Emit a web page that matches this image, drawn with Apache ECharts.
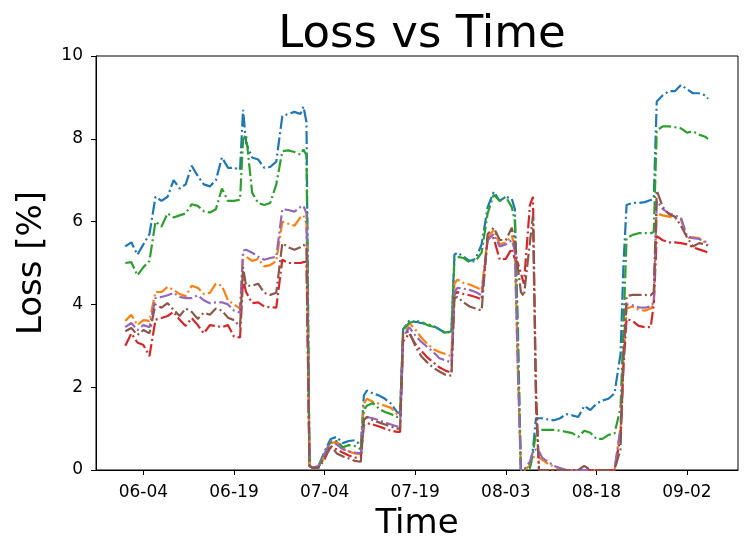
<!DOCTYPE html>
<html>
<head>
<meta charset="utf-8">
<script src="https://cdn.jsdelivr.net/npm/echarts@6/dist/echarts.min.js"></script>
<style>
html,body{margin:0;padding:0;background:#fff;}
#chart{width:744px;height:540px;}
</style>
</head>
<body>
<div id="chart"></div>
<script>
// x positions: days counted from 05-20 (06-01 = 12)
const days = [
  12,13,14,15,16,17,18,19,20,21,22,23,24,25,26,27,28,29,30,31,
  31.5,
  32,33,34,35,36,37,38,39,40,41,
  41.5,42,42.5,
  43,44,45,46,47,48,49,50,51,
  51.5,
  52,53,54,55,56,57,
  57.5,
  58,59,60,61,62,63,64,65,66,
  66.5,
  67,68,69,70,71,72,73,74,75,76,
  76.5,77,77.5,78,
  79,79.5,80,80.5,
  81,82,83,84,85,86,87,88,89,90,91,92,93,94,
  94.5,
  95,96,97,98,99,
  99.5,
  100,101,102,103,104,105,106,107,108,
  108.5
];

const tickDays = [15, 30, 45, 60, 75, 90, 105];
const tickLabels = ['06-04', '06-19', '07-04', '07-19', '08-03', '08-18', '09-02'];

const blue = [
  5.4,5.5,5.2,5.45,5.7,6.6,6.5,6.6,7.0,6.8,6.9,7.35,7.1,6.9,6.85,7.0,7.55,7.3,7.3,7.25,
  8.7,
  7.9,7.55,7.5,7.3,7.32,7.45,8.55,8.6,8.65,8.6,
  8.78,8.4,0.1,
  0.05,0.1,0.45,0.75,0.8,0.65,0.7,0.72,0.6,
  1.8,
  1.92,1.85,1.8,1.72,1.6,1.4,
  1.37,
  3.4,3.6,3.58,3.55,3.52,3.48,3.4,3.3,3.35,
  5.2,
  5.25,5.15,5.05,5.1,5.45,6.35,6.72,6.5,6.6,6.55,
  6.3,3.0,0,0,
  0.1,0.5,1.25,1.25,
  1.25,1.22,1.2,1.25,1.35,1.32,1.28,1.55,1.45,1.6,1.68,1.72,1.85,2.8,
  5.0,
  6.4,6.45,6.45,6.47,6.52,
  6.57,
  8.9,9.05,9.15,9.15,9.3,9.2,9.1,9.1,9.05,
  8.97
];

const orange = [
  3.6,3.75,3.5,3.62,3.6,4.3,4.3,4.42,4.35,4.25,4.2,4.45,4.4,4.25,4.28,4.5,4.45,4.1,4.0,3.9,
  5.2,
  5.15,5.05,5.1,4.92,4.95,5.05,6.0,5.95,5.9,6.1,
  6.15,5.97,0.1,
  0.05,0.08,0.35,0.65,0.68,0.55,0.45,0.4,0.38,
  1.6,
  1.72,1.65,1.6,1.55,1.5,1.35,
  1.32,
  3.3,3.55,3.4,3.2,3.05,2.92,2.85,2.8,2.75,
  4.5,
  4.6,4.52,4.48,4.42,4.35,5.6,5.8,5.45,5.5,5.65,
  5.4,2.5,0,0,
  0.1,0.3,0.35,0.3,
  0.25,0.15,0.08,0.03,0,0,0,0,0,0,0,0,0,1.0,
  2.8,
  3.9,3.95,3.87,3.85,3.9,
  4.0,
  6.2,6.15,6.12,6.08,6.05,5.6,5.62,5.6,5.5,
  5.45
];

const green = [
  5.0,5.02,4.7,4.9,5.05,6.0,5.88,6.2,6.1,6.15,6.2,6.42,6.38,6.25,6.22,6.3,6.8,6.5,6.5,6.53,
  7.98,
  8.1,6.7,6.45,6.4,6.45,6.9,7.7,7.72,7.68,7.62,
  7.74,7.6,0.1,
  0.05,0.08,0.4,0.68,0.7,0.55,0.6,0.58,0.5,
  1.45,
  1.55,1.62,1.48,1.4,1.35,1.28,
  1.3,
  3.4,3.55,3.6,3.58,3.5,3.46,3.4,3.32,3.35,
  5.1,
  5.15,5.12,5.02,5.05,5.25,6.2,6.65,6.5,6.6,6.35,
  6.0,3.5,0,0,
  0.05,0.4,0.9,0.97,
  0.97,0.97,0.97,0.95,0.92,0.89,0.8,0.95,0.9,0.75,0.75,0.85,0.88,1.5,
  3.5,
  5.6,5.68,5.72,5.72,5.72,
  5.75,
  8.2,8.3,8.3,8.28,8.25,8.15,8.18,8.1,8.05,
  8.0
];

const red = [
  3.0,3.3,3.08,3.02,2.75,3.63,3.67,3.72,3.82,3.63,3.48,3.67,3.5,3.3,3.5,3.48,3.45,3.5,3.22,3.2,
  4.6,
  4.3,4.03,4.05,3.95,3.93,3.92,5.08,5.0,5.0,5.0,
  5.02,5.03,0.1,
  0.05,0.08,0.3,0.55,0.5,0.42,0.35,0.3,0.3,
  1.08,
  1.13,1.1,1.05,1.0,0.95,0.92,
  0.92,
  3.1,3.3,3.05,2.88,2.72,2.6,2.48,2.4,2.35,
  4.25,
  4.3,4.25,4.22,4.18,4.12,5.6,5.6,5.08,5.1,5.35,
  5.1,5.0,4.75,4.5,
  6.4,6.6,2.0,0,
  0,0,0,0,0,0,0,0,0,0,0,0,0,0.8,
  2.5,
  3.65,3.6,3.48,3.45,3.45,
  4.0,
  5.65,5.55,5.5,5.5,5.48,5.45,5.38,5.33,5.28,
  5.25
];

const purple = [
  3.45,3.55,3.38,3.5,3.45,4.15,4.18,4.22,4.28,4.18,4.15,4.15,4.22,4.1,4.03,4.05,4.05,4.0,3.85,3.8,
  5.3,
  5.32,5.25,5.15,5.08,5.12,5.15,6.3,6.28,6.24,6.35,
  6.38,6.2,0.1,
  0.05,0.1,0.4,0.7,0.62,0.5,0.45,0.42,0.4,
  1.2,
  1.28,1.25,1.2,1.15,1.1,1.05,
  1.05,
  3.2,3.45,3.25,3.1,2.97,2.85,2.7,2.65,2.6,
  4.3,
  4.4,4.38,4.35,4.3,4.22,5.55,5.7,5.4,5.45,5.55,
  5.3,2.4,0,0,
  0.2,0.45,0.5,0.45,
  0.3,0.2,0.1,0.05,0,0,0,0,0,0,0,0,0,1.0,
  2.8,
  4.0,3.98,3.93,3.92,3.95,
  4.05,
  6.5,6.3,6.2,6.15,6.1,5.65,5.6,5.58,5.52,
  5.5
];

const brown = [
  3.35,3.43,3.26,3.38,3.3,4.0,3.92,4.03,3.87,3.72,3.9,3.82,3.65,3.8,3.75,3.9,3.85,3.68,3.62,3.46,
  4.9,
  4.45,4.45,4.5,4.28,4.23,4.28,5.48,5.38,5.32,5.38,
  5.44,5.39,0.1,
  0.05,0.05,0.25,0.6,0.4,0.33,0.28,0.22,0.2,
  1.2,
  1.28,1.2,1.15,1.1,1.05,1.0,
  1.0,
  3.3,3.35,3.0,2.75,2.6,2.47,2.38,2.3,2.28,
  4.15,
  4.18,4.05,3.95,3.9,3.85,5.7,5.85,5.56,5.55,5.85,
  5.5,4.9,4.3,4.2,
  5.5,6.15,1.5,0,
  0,0,0,0,0,0,0,0.1,0,0,0,0,0,0.5,
  2.8,
  4.2,4.23,4.23,4.23,4.22,
  4.3,
  6.75,6.35,6.18,6.12,5.9,5.62,5.4,5.48,5.45,
  5.42
];

const seriesList = [
  {name: 'C0', values: blue, color: '#1f77b4'},
  {name: 'C1', values: orange, color: '#ff7f0e'},
  {name: 'C2', values: green, color: '#2ca02c'},
  {name: 'C3', values: red, color: '#d62728'},
  {name: 'C4', values: purple, color: '#9467bd'},
  {name: 'C5', values: brown, color: '#8c564b'}
];

const FONT = 'DejaVu Sans';
const chart = echarts.init(document.getElementById('chart'), null, {renderer: 'canvas'});

chart.setOption({
  animation: false,
  backgroundColor: '#ffffff',
  title: {
    text: 'Loss vs Time',
    left: 417,
    textAlign: 'center',
    top: 8,
    textStyle: {fontFamily: FONT, fontSize: 45, fontWeight: 'normal', color: '#000'}
  },
  grid: {
    left: 96, right: 6, top: 56, bottom: 70,
    outerBoundsMode: 'none',
    containLabel: false,
    show: true, borderColor: '#000', borderWidth: 1, backgroundColor: 'transparent'
  },
  xAxis: {
    type: 'value',
    min: 7.15,
    max: 113.45,
    name: 'Time',
    nameLocation: 'middle',
    nameGap: 37,
    nameTextStyle: {fontFamily: FONT, fontSize: 34, color: '#000'},
    axisLine: {show: true, onZero: false, lineStyle: {color: '#000', width: 1}},
    axisTick: {show: true, inside: false, length: 5, customValues: tickDays, lineStyle: {color: '#000'}},
    axisLabel: {
      customValues: tickDays,
      margin: 14,
      fontFamily: FONT, fontSize: 17, color: '#000',
      formatter: function (v) {
        const i = tickDays.indexOf(Math.round(v));
        return i >= 0 ? tickLabels[i] : '';
      }
    },
    splitLine: {show: false}
  },
  yAxis: {
    type: 'value',
    min: 0,
    max: 10,
    interval: 2,
    name: 'Loss [%]',
    nameLocation: 'middle',
    nameRotate: 90,
    nameGap: 47,
    nameTextStyle: {fontFamily: FONT, fontSize: 34, color: '#000'},
    axisLine: {show: true, lineStyle: {color: '#000', width: 1}},
    axisTick: {show: true, inside: false, length: 5, lineStyle: {color: '#000'}},
    axisLabel: {margin: 13, fontFamily: FONT, fontSize: 17, color: '#000'},
    splitLine: {show: false}
  },
  series: seriesList.map(function (s) {
    return {
      name: s.name,
      type: 'line',
      data: days.map(function (d, i) { return [d, s.values[i]]; }),
      showSymbol: false,
      symbol: 'none',
      clip: true,
      lineStyle: {color: s.color, width: 2.2, type: [13, 3.3, 2, 3.3]},
      itemStyle: {color: s.color}
    };
  })
});
</script>
</body>
</html>
